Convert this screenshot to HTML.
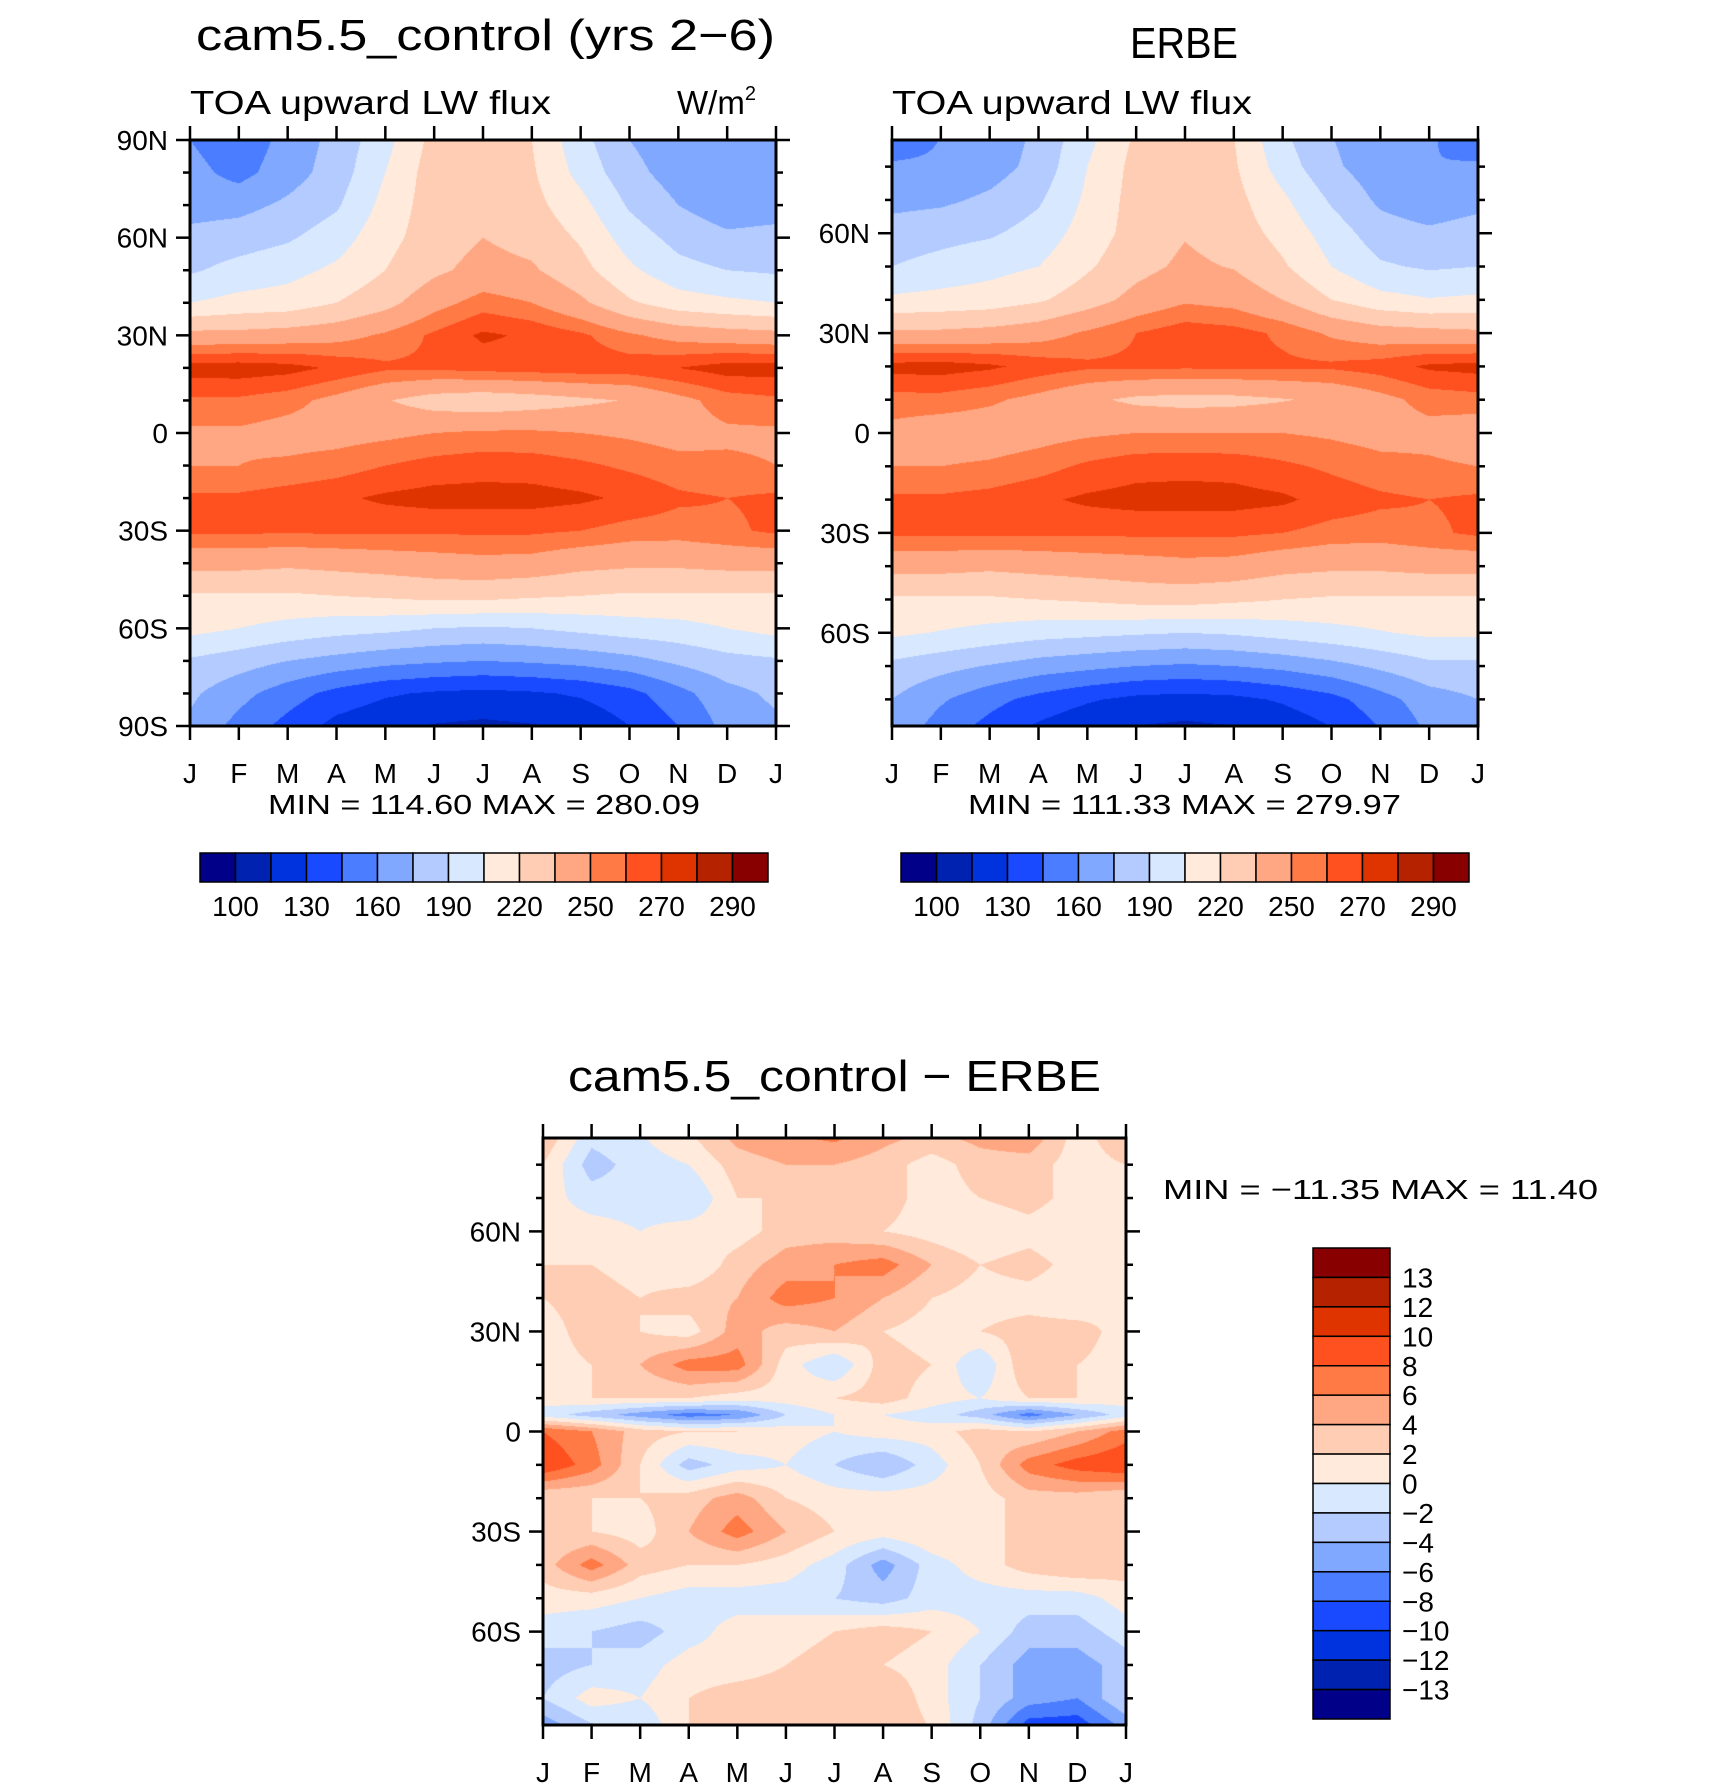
<!DOCTYPE html>
<html><head><meta charset="utf-8"><style>
html,body{margin:0;padding:0;background:#fff;}
#root{position:relative;width:1710px;height:1787px;overflow:hidden;}
canvas{position:absolute;}
svg{position:absolute;left:0;top:0;}
text{font-family:"Liberation Sans",sans-serif;fill:#000;}
</style></head><body>
<div id="root">
<canvas id="c1" style="left:190px;top:140px" width="586" height="586"></canvas>
<canvas id="c2" style="left:892px;top:140px" width="586" height="586"></canvas>
<canvas id="c3" style="left:543px;top:1138px" width="583" height="587"></canvas>
<svg id="ov" width="1710" height="1787">
<text x="196" y="50" font-size="44" textLength="579" lengthAdjust="spacingAndGlyphs">cam5.5_control (yrs 2−6)</text>
<text x="1130" y="58" font-size="44" textLength="108" lengthAdjust="spacingAndGlyphs">ERBE</text>
<text x="190" y="114" font-size="33" textLength="361" lengthAdjust="spacingAndGlyphs">TOA upward LW flux</text>
<text x="677" y="114" font-size="33">W/m<tspan font-size="20" dy="-14">2</tspan></text>
<text x="892" y="114" font-size="33" textLength="360" lengthAdjust="spacingAndGlyphs">TOA upward LW flux</text>
<text x="268" y="814" font-size="28" textLength="432" lengthAdjust="spacingAndGlyphs">MIN = 114.60 MAX = 280.09</text>
<text x="968" y="814" font-size="28" textLength="433" lengthAdjust="spacingAndGlyphs">MIN = 111.33 MAX = 279.97</text>
<text x="568" y="1091" font-size="44" textLength="533" lengthAdjust="spacingAndGlyphs">cam5.5_control − ERBE</text>
<text x="1163" y="1199" font-size="28" textLength="435" lengthAdjust="spacingAndGlyphs">MIN = −11.35 MAX =   11.40</text>
</svg>
</div>
<script>
const colors=['#000088','#0022b0','#0033dd','#1a4aff','#4a7dff','#80a8ff','#b3cbff','#d8e8ff','#ffeadb','#ffcdb3','#ffa783','#ff7a45','#ff5020','#e03400','#b52200','#880000'];
const levelsAbs=[100,115,130,145,160,175,190,205,220,235,250,260,270,280,290];
const levelsDiff=[-13,-12,-10,-8,-6,-4,-2,0,2,4,6,8,10,12,13];
const absTickLabels=['100','130','160','190','220','250','270','290'];
const diffTickLabels=['13','12','10','8','6','4','2','0','−2','−4','−6','−8','−10','−12','−13'];
const months=['J','F','M','A','M','J','J','A','S','O','N','D','J'];
const latsAbs=[90,80,70,60,50,40,30,20,10,0,-10,-20,-30,-40,-50,-60,-70,-80,-90];
const modelVals=[
[160,150,165,180,200,225,228,220,195,175,165,165,160],
[165,155,168,182,205,228,228,222,200,180,168,163,165],
[168,170,178,188,210,228,230,225,210,188,175,166,168],
[180,183,188,198,215,228,235,230,218,198,185,178,180],
[188,195,200,208,220,232,240,237,225,208,195,190,188],
[205,210,212,220,230,245,255,250,238,222,212,208,205],
[240,240,242,245,252,262,272,268,262,252,245,242,240],
[275,276,274,268,262,262,264,265,266,266,270,275,275],
[258,258,254,246,236,228,225,228,232,236,246,255,258],
[248,248,245,245,247,250,252,252,250,248,245,248,248],
[250,250,252,255,260,264,266,265,262,258,254,252,250],
[262,262,265,268,272,274,274,274,272,268,262,260,262],
[262,262,262,262,262,262,262,262,260,256,255,258,262],
[240,240,238,240,242,244,246,245,240,238,238,240,240],
[218,218,218,220,222,225,225,222,220,218,218,218,218],
[210,205,200,196,194,190,188,190,194,198,200,205,210],
[188,182,175,170,165,162,160,162,165,170,178,185,188],
[178,165,152,140,132,128,126,128,132,140,155,170,178],
[172,155,140,125,118,114,112,114,118,130,145,165,172]];
const erbeVals=[
[150,160,165,178,200,222,232,220,192,175,165,162,150],
[162,162,168,180,205,225,232,222,198,178,166,160,162],
[170,172,178,188,208,226,232,225,208,188,172,165,170],
[182,185,188,196,212,226,234,228,215,198,182,178,182],
[190,195,200,205,218,230,238,234,222,205,192,188,190],
[208,210,212,218,228,240,248,245,235,220,210,206,208],
[238,238,240,244,252,260,266,264,258,248,242,240,238],
[274,275,272,266,262,262,262,262,262,262,265,272,274],
[256,256,252,246,238,232,230,231,234,238,246,254,256],
[246,242,242,245,248,250,250,250,250,248,245,246,242],
[250,250,252,256,262,266,267,266,262,258,254,252,250],
[262,262,264,268,272,274,274,274,272,266,262,260,262],
[262,262,262,262,262,262,262,262,260,256,255,258,262],
[240,240,238,240,242,244,246,245,240,238,238,240,240],
[218,218,218,220,222,225,226,223,220,218,218,218,218],
[208,204,200,196,194,192,190,192,196,200,204,208,208],
[186,180,174,168,164,160,158,160,164,170,178,186,186],
[175,162,150,140,132,126,124,126,132,140,154,168,175],
[170,152,138,125,116,112,110,112,118,128,144,162,170]];
const latsDiff=[90,80,70,60,50,40,30,20,10,5,0,-10,-20,-30,-40,-50,-60,-70,-80,-90];
const diffVals=[
[4,-1,0,2,5,6,7,5,4,5,6,1,4],
[2,-3,-1,0,3,4,4,3,1,3,3,1,2],
[1,-1,-1,-2,2,2,3,3,1,2,3,1,1],
[1,1,0,1,1,3,3,2,1,0,1,0,1],
[2,2,1,0,3,5,6,7,4,2,3,1,2],
[2,3,2,3,4,7,6,4,2,1,1,0,2],
[1,3,2,1,5,3,4,2,1,2,3,3,1],
[1,2,4,7,7,1,-2,3,2,-2,4,2,1],
[1,2,2,2,1,1,2,3,1,0,2,2,1],
[-1,-3,-5,-7,-6,-2,0,0,-1,-3,-7,-4,-1],
[8,6,3,2,2,1,0,1,1,3,2,4,7],
[10,7,2,-3,-1,0,-2,-4,-1,2,7,9,10],
[2,2,2,3,5,2,1,1,1,1,3,3,2],
[2,2,1,4,7,4,2,1,2,2,2,2,2],
[3,7,3,2,2,1,-1,-5,-1,1,3,4,3],
[1,1,0,-1,-1,-1,-2,-3,-1,-1,-1,-1,1],
[-1,-2,-3,-1,1,1,2,3,2,0,-3,-3,-1],
[-3,-2,-1,1,1,2,3,2,1,-2,-5,-5,-3],
[-2,1,0,2,3,3,3,4,1,-2,-5,-6,-2],
[-6,-3,-2,2,3,3,4,4,2,-3,-10,-10,-6]];

function hex(c){return [parseInt(c.substr(1,2),16),parseInt(c.substr(3,2),16),parseInt(c.substr(5,2),16)];}
const rgb=colors.map(hex);
function sample(lats,vals,lat,m){
  let i=0;while(i<lats.length-2&&lat<lats[i+1])i++;
  let t=(lats[i]-lat)/(lats[i]-lats[i+1]);t=Math.max(0,Math.min(1,t));
  let j=Math.min(11,Math.floor(m));let u=m-j;
  const a=vals[i][j]*(1-u)+vals[i][j+1]*u,b=vals[i+1][j]*(1-u)+vals[i+1][j+1]*u;
  return a*(1-t)+b*t;
}
function drawField(id,lats,vals,levels,latTop,latBot){
  const cv=document.getElementById(id),ctx=cv.getContext('2d');
  const W=cv.width,H=cv.height,img=ctx.createImageData(W,H);
  for(let y=0;y<H;y++){const lat=latTop-(y+0.5)/H*(latTop-latBot);
    for(let x=0;x<W;x++){const v=sample(lats,vals,lat,(x+0.5)/W*12);
      let k=0;while(k<levels.length&&v>=levels[k])k++;
      const c=rgb[k],p=(y*W+x)*4;img.data[p]=c[0];img.data[p+1]=c[1];img.data[p+2]=c[2];img.data[p+3]=255;}}
  ctx.putImageData(img,0,0);
}
drawField('c1',latsAbs,modelVals,levelsAbs,90,-90);
drawField('c2',latsAbs,erbeVals,levelsAbs,88,-88);
drawField('c3',latsDiff,diffVals,levelsDiff,88,-88);

const NS='http://www.w3.org/2000/svg',ov=document.getElementById('ov');
function mk(tag,attrs){const e=document.createElementNS(NS,tag);for(const k in attrs)e.setAttribute(k,attrs[k]);ov.appendChild(e);return e;}
function axes(px,py,w,h,latTop,latBot,prefix){
  const f=mk('rect',{x:px,y:py,width:w,height:h,fill:'none',stroke:'#000','stroke-width':3});
  
  
  const yOf=lat=>py+(latTop-lat)/(latTop-latBot)*h;
  for(let i=0;i<13;i++){const x=px+i*w/12;
    const t1=mk('line',{x1:x,y1:py,x2:x,y2:py-14,stroke:'#000','stroke-width':2.5});
    
    
    const t2=mk('line',{x1:x,y1:py+h,x2:x,y2:py+h+14,stroke:'#000','stroke-width':2.5});
    
    
    const tl=mk('text',{x:x,y:py+h+57,'font-size':28,'text-anchor':'middle'});tl.textContent=months[i];
    
    }
  for(let lat=90;lat>=-90;lat-=10){if(lat>latTop||lat<latBot)continue;const y=yOf(lat);const major=lat%30===0;const L=major?14:7;
    const a=mk('line',{x1:px,y1:y,x2:px-L,y2:y,stroke:'#000','stroke-width':2.5});
    
    
    const b=mk('line',{x1:px+w,y1:y,x2:px+w+L,y2:y,stroke:'#000','stroke-width':2.5});
    
    
    if(major){const t=mk('text',{x:px-22,y:y+10,'font-size':28,'text-anchor':'end'});
      t.textContent=lat===0?'0':(Math.abs(lat)+(lat>0?'N':'S'));
      
      }}
}
axes(190,140,586,586,90,-90,'model');
axes(892,140,586,586,88,-88,'erbe');
axes(543,1138,583,587,88,-88,'diff');
function hbar(x0,y0,w,h,prefix){
  const bw=w/16;
  for(let i=0;i<16;i++){const r=mk('rect',{x:x0+i*bw,y:y0,width:bw,height:h,fill:colors[i],stroke:'#000','stroke-width':1.5});
    
    }
  for(let i=0;i<absTickLabels.length;i++){const t=mk('text',{x:x0+(2*i+1)*bw,y:y0+h+34,'font-size':28,'text-anchor':'middle'});t.textContent=absTickLabels[i];
    
    }
}
hbar(200,853,568,29,'model');
hbar(901,853,568,29,'erbe');
(function(){const x0=1313,y0=1248,w=77,h=471,bh=h/16;
  for(let i=0;i<16;i++){const r=mk('rect',{x:x0,y:y0+i*bh,width:w,height:bh,fill:colors[15-i],stroke:'#000','stroke-width':1.5});
    
    }
  for(let i=0;i<diffTickLabels.length;i++){const t=mk('text',{x:x0+w+12,y:y0+(i+1)*bh+10,'font-size':28});t.textContent=diffTickLabels[i];
    
    }
})();
</script>
</body></html>
